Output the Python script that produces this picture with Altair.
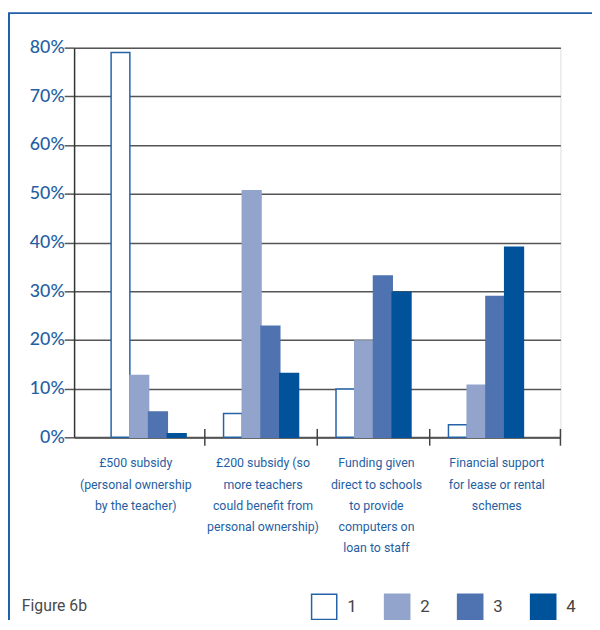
import altair as alt
import pandas as pd

categories = [
    "£500 subsidy|(personal ownership|by the teacher)",
    "£200 subsidy (so|more teachers|could benefit from|personal ownership)",
    "Funding given|direct to schools|to provide|computers on|loan to staff",
    "Financial support|for lease or rental|schemes",
]
series_names = ["1", "2", "3", "4"]
s1 = [79.0, 4.9, 9.9, 2.6]
s2 = [12.7, 50.6, 19.8, 10.7]
s3 = [5.2, 22.8, 33.1, 28.9]
s4 = [0.75, 13.1, 29.8, 39.0]
y_ticks = [0, 10, 20, 30, 40, 50, 60, 70, 80]
figure_label = ["Figure 6b"]

fills = ["#ffffff", "#93a4cc", "#4f72b0", "#00529b"]
strokes = ["#2563a8", "#93a4cc", "#4f72b0", "#00529b"]
blue_text = "#1f5fa3"

rows = []
for name, vals in zip(series_names, [s1, s2, s3, s4]):
    for c, v in zip(categories, vals):
        rows.append({"cat": c, "series": name, "value": v})
df = pd.DataFrame(rows)

W, H = 493, 395

leg = alt.Legend(
    title=None, orient="none", legendX=240, legendY=553, direction="horizontal",
    symbolType="square", symbolSize=650, symbolStrokeWidth=1.5,
    labelFont="Roboto", labelFontSize=17, labelColor="#444444",
    labelOffset=10, columnPadding=24, padding=0,
)

xscale = alt.Scale(domain=categories, paddingInner=0, paddingOuter=0.1625)

bars = alt.Chart(df).mark_bar(strokeWidth=1.5).encode(
    x=alt.X("cat:N", sort=categories, scale=xscale,
            axis=alt.Axis(
                title=None, labelAngle=0, ticks=False, grid=False,
                labelExpr="split(datum.label, '|')",
                labelFont="Roboto", labelFontSize=12.5,
                labelColor=blue_text, labelLineHeight=21.5, labelPadding=20,
                labelLimit=0, domainColor="#555555", domainWidth=2,
                labelOffset={"condition": [
                    {"test": f"datum.value == '{categories[0]}'", "value": -13},
                    {"test": f"datum.value == '{categories[1]}'", "value": 2},
                    {"test": f"datum.value == '{categories[2]}'", "value": 3},
                ], "value": 11},
            )),
    xOffset=alt.XOffset("series:N", sort=series_names,
                        scale=alt.Scale(paddingInner=0, paddingOuter=1)),
    y=alt.Y("value:Q", scale=alt.Scale(domain=[0, 80], nice=False),
            axis=alt.Axis(
                title=None, values=y_ticks, labelExpr="datum.value + '%'",
                labelFont="Lato", labelFontSize=18, labelColor=blue_text,
                labelFontWeight=500,
                tickSize=10, tickColor="#555555", tickWidth=1.5, labelPadding=0,
                gridColor="#555555", gridWidth=1.5, domainColor="#333333",
                domainWidth=1.5,
            )),
    fill=alt.Fill("series:N", sort=series_names,
                  scale=alt.Scale(domain=series_names, range=fills), legend=leg),
    stroke=alt.Stroke("series:N", sort=series_names,
                      scale=alt.Scale(domain=series_names, range=strokes), legend=leg),
)

tick_df = pd.DataFrame({"cat": categories[1:]})
ticks = alt.Chart(tick_df).mark_rule(color="#444444", strokeWidth=1.5).encode(
    x=alt.X("cat:N", sort=categories, bandPosition=0),
    y=alt.value(H - 8.5), y2=alt.value(H + 8.5),
)
one = pd.DataFrame({"a": [0]})
end_tick = alt.Chart(one).mark_rule(color="#444444", strokeWidth=1.5).encode(
    x=alt.value(W), y=alt.value(H - 8.5), y2=alt.value(H + 8.5),
)

frame_left = alt.Chart(one).mark_rule(color="#1f5fa8", strokeWidth=2).encode(
    x=alt.value(-66), y=alt.value(-35), y2=alt.value(H + 300),
)
frame_top = alt.Chart(one).mark_rule(color="#1f5fa8", strokeWidth=2).encode(
    x=alt.value(-67), x2=alt.value(W + 40), y=alt.value(-35),
)

fig = alt.Chart(pd.DataFrame({"t": figure_label})).mark_text(
    align="left", baseline="middle", font="Roboto", fontSize=16, color="#4a4a4a"
).encode(text="t:N", x=alt.value(-53), y=alt.value(566))

chart = alt.layer(bars, ticks, end_tick, frame_left, frame_top, fig).properties(
    width=W, height=H,
    autosize=alt.AutoSizeParams(type="none"),
    padding={"left": 67, "top": 36, "right": 32, "bottom": 181},
).configure_view(stroke=None).configure(background="white")

chart.save("out.html", embed_options={"renderer": "svg", "actions": False})
